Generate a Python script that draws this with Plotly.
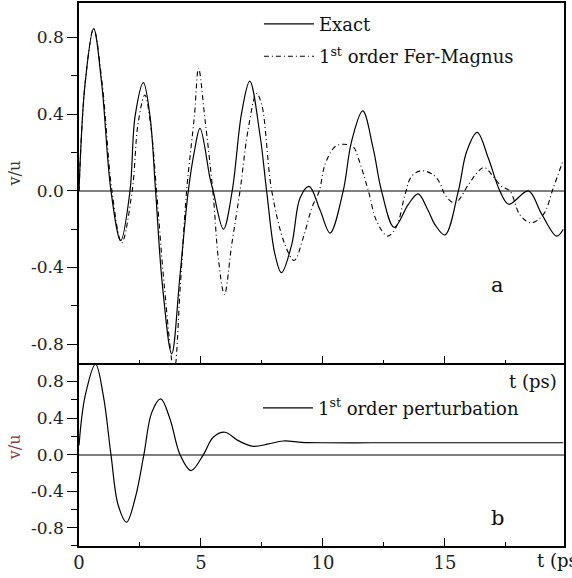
import plotly.graph_objects as go
from plotly.subplots import make_subplots

# Exact solution (panel a)
t_exact = [0, 0.25, 0.6, 0.93, 1.31, 1.71, 2.09, 2.3, 2.64, 2.91, 3.14, 3.41, 3.8, 4.14,
           4.48, 4.72, 4.96, 5.37, 5.5, 5.92, 6.28, 6.67, 7.0, 7.42, 7.69, 8.03, 8.3, 8.72,
           9.06, 9.43, 9.88, 10.29, 10.83, 11.17, 11.63, 12.06, 12.4, 12.92, 13.5, 13.9,
           14.3, 14.59, 15.0, 15.55, 15.89, 16.32, 16.78, 17.25, 17.62, 18.42, 18.96,
           19.58, 19.85]
v_exact = [0.0, 0.56, 0.846, 0.56, 0.0, -0.26, 0.0, 0.39, 0.565, 0.39, 0.0, -0.48, -0.85,
           -0.44, 0.0, 0.2, 0.326, 0.066, 0.0, -0.2, 0.0, 0.41, 0.572, 0.29, 0.0, -0.33,
           -0.427, -0.28, -0.037, 0.023, -0.1, -0.22, 0.0, 0.257, 0.417, 0.22, 0.0, -0.19,
           -0.07, -0.016, -0.1, -0.176, -0.23, 0.0, 0.205, 0.305, 0.17, 0.0, -0.07, 0.0,
           -0.12, -0.236, -0.2]

# 1st order Fer-Magnus (panel a)
t_magnus = [0, 0.25, 0.6, 0.95, 1.35, 1.75, 2.18, 2.42, 2.7, 2.95, 3.18, 3.5, 3.9, 4.15,
            4.41, 4.73, 4.9, 5.16, 5.5, 5.71, 5.96, 6.26, 6.6, 6.94, 7.28, 7.49, 7.9, 8.44,
            8.82, 9.19, 9.54, 9.85, 10.08, 10.49, 10.83, 11.24, 11.45, 11.86, 12.2, 12.65,
            13.02, 13.36, 13.63, 14.02, 14.52, 14.8, 15.0, 15.41, 15.96, 16.3, 16.61, 16.98,
            17.32, 17.66, 18.07, 18.52, 19.03, 19.44, 19.85]
v_magnus = [0.0, 0.56, 0.846, 0.56, 0.0, -0.27, 0.0, 0.35, 0.5, 0.33, 0.0, -0.5, -0.94,
            -0.5, 0.0, 0.39, 0.64, 0.378, -0.02, -0.35, -0.54, -0.28, 0.0, 0.326, 0.508,
            0.45, 0.0, -0.28, -0.363, -0.245, -0.09, 0.0, 0.136, 0.23, 0.243, 0.23, 0.17,
            0.0, -0.158, -0.236, -0.184, -0.02, 0.075, 0.105, 0.084, 0.04, -0.02, -0.063,
            0.032, 0.092, 0.122, 0.075, 0.023, 0.0, -0.124, -0.167, -0.124, 0.015, 0.162]

# 1st order perturbation (panel b)
t_pert = [0, 0.25, 0.68, 1.0, 1.31, 1.61, 1.95, 2.3, 2.66, 2.98, 3.35, 3.73, 4.14, 4.59,
          5.1, 5.5, 5.98, 6.53, 7.14, 7.76, 8.37, 9.13, 10, 12, 14, 16, 18, 19.85]
v_pert = [0.1, 0.64, 0.99, 0.64, 0.0, -0.557, -0.74, -0.48, 0.0, 0.46, 0.61, 0.39, 0.0,
          -0.175, 0.0, 0.19, 0.245, 0.153, 0.091, 0.117, 0.149, 0.135, 0.13, 0.13, 0.13,
          0.13, 0.13, 0.13]

y_ticks = [-0.8, -0.4, 0.0, 0.4, 0.8]
y_ticktext = ["-0.8", "-0.4", "0.0", "0.4", "0.8"]
x_ticks = [0, 5, 10, 15]

FONT = "DejaVu Serif"

fig = make_subplots(rows=2, cols=1, shared_xaxes=True, vertical_spacing=0)

fig.add_trace(go.Scatter(x=t_exact, y=v_exact, mode="lines", name="Exact",
                         line=dict(color="black", width=1.2, shape="spline"),
                         legend="legend", legendgroup="a1"), row=1, col=1)
fig.add_trace(go.Scatter(x=t_magnus, y=v_magnus, mode="lines",
                         name="1<sup>st</sup> order Fer-Magnus",
                         line=dict(color="black", width=1.1, shape="spline",
                                   dash="5px,3px,1px,3px"),
                         legend="legend", legendgroup="a2"), row=1, col=1)
fig.add_trace(go.Scatter(x=t_pert, y=v_pert, mode="lines",
                         name="1<sup>st</sup> order perturbation",
                         line=dict(color="black", width=1.2, shape="spline"),
                         legend="legend2"), row=2, col=1)

xcommon = dict(range=[0, 19.88], showline=True, linecolor="black", linewidth=1.5,
               mirror=True, showgrid=False, zeroline=False, ticks="inside", ticklen=8,
               tickwidth=1.3, tickcolor="black", tickvals=x_ticks,
               minor=dict(tickvals=[2.5, 7.5, 12.5, 17.5], ticks="inside", ticklen=4,
                          tickwidth=1.2, tickcolor="black"))
ycommon = dict(showline=True, linecolor="black", linewidth=1.5, mirror=True,
               showgrid=False, zeroline=True, zerolinecolor="#808080", zerolinewidth=1.5,
               ticks="outside", ticklen=10, tickwidth=1.3, tickcolor="black",
               tickvals=y_ticks, ticktext=y_ticktext,
               tickfont=dict(family=FONT, size=17, color="#222"),
               minor=dict(dtick=0.2, tick0=0, ticks="outside", ticklen=6, tickwidth=1.2,
                          tickcolor="black"))

fig.update_xaxes(**xcommon)
fig.update_xaxes(showticklabels=False, row=1, col=1)
fig.update_xaxes(tickfont=dict(family=FONT, size=18, color="#222"), row=2, col=1)
fig.update_yaxes(**ycommon)
fig.update_yaxes(range=[-0.9, 0.98], domain=[0.3363, 1], row=1, col=1)
fig.update_yaxes(range=[-1.0, 0.985], domain=[0, 0.334], row=2, col=1)

annots = [
    dict(text="v/u", x=-0.134, y=0.686, textangle=-90, font=dict(size=16, color="#333")),
    dict(text="v/u", x=-0.134, y=0.182, textangle=-90, font=dict(size=16, color="#8b3a3a")),
    dict(text="a", x=0.862, y=0.481, font=dict(size=21, color="#111")),
    dict(text="b", x=0.862, y=0.051, font=dict(size=21, color="#111")),
    dict(text="t (ps)", x=0.8825, y=0.3028, xanchor="left", font=dict(size=18, color="#111")),
    dict(text="t (ps)", x=0.94, y=-0.0275, xanchor="left", font=dict(size=18, color="#111")),
]
for a in annots:
    a.setdefault("xanchor", "center")
    fig.add_annotation(xref="paper", yref="paper", showarrow=False, yanchor="middle",
                       **a)

fig.update_layout(
    width=572, height=578,
    margin=dict(l=79, r=8, t=1, b=32),
    plot_bgcolor="white", paper_bgcolor="white",
    font=dict(family=FONT, size=18, color="#111"),
    legend=dict(x=0.371, y=0.995, xanchor="left", yanchor="top", bgcolor="rgba(0,0,0,0)",
                itemwidth=50, tracegroupgap=6, font=dict(family=FONT, size=18)),
    legend2=dict(x=0.369, y=0.288, xanchor="left", yanchor="top", bgcolor="rgba(0,0,0,0)",
                 itemwidth=50, font=dict(family=FONT, size=18)),
    showlegend=True,
)

# page body has a default 8px margin; drop it so the figure sits at the corner
fig.write_html("out.html", config={"displayModeBar": False},
               post_script="document.body.style.margin='0';")
